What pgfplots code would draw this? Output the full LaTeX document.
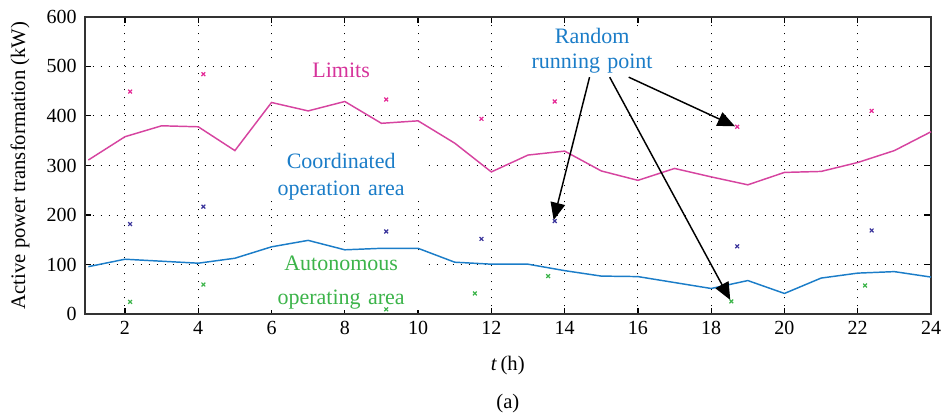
\documentclass[border=0pt]{standalone}
\usepackage{fontspec}
\setmainfont{Liberation Serif}
\usepackage{pgfplots}
\pgfplotsset{compat=1.18}
\usetikzlibrary{arrows.meta}

\definecolor{limitline}{RGB}{214,68,160}
\definecolor{limitmark}{RGB}{228,42,150}
\definecolor{limittext}{RGB}{214,51,155}
\definecolor{coordblue}{RGB}{27,125,200}
\definecolor{autogreen}{RGB}{60,180,74}
\definecolor{randpurple}{RGB}{58,52,155}

\tikzset{annot/.style={fill=white, inner xsep=5pt, inner ysep=1pt, text width=115pt,
    align=center, font=\fontsize{16.5}{20}\selectfont}}

\begin{document}
\begin{tikzpicture}[x=1pt,y=1pt]
\path[use as bounding box] (-63.5,-77) rectangle (645.2,235.7);
\begin{axis}[
  at={(0,0)}, anchor=south west,
  scale only axis, width=634.7pt, height=223.2pt,
  xmin=0.9, xmax=24, ymin=0, ymax=600,
  xtick={2,4,...,24}, ytick={0,100,...,600},
  tick align=inside, major tick length=5pt,
  grid=major,
  major grid style={black, line width=0.75pt, dash pattern=on 0.75pt off 5.25pt},
  axis line style={line width=1.3pt, black!80},
  tick style={black, line width=0.9pt},
  ticklabel style={font=\rmfamily\fontsize{15}{17}\selectfont},
  /pgf/number format/assume math mode=true,
  xticklabel={\rmfamily\pgfmathprintnumber{\tick}},
  yticklabel={\rmfamily\pgfmathprintnumber{\tick}},
  xticklabel style={yshift=-2pt},
  yticklabel style={xshift=-2.5pt},
  clip=false,
  xlabel={\textit{t}\,(h)},
  ylabel={Active power transformation (kW)},
  label style={font=\fontsize{15.5}{18}\selectfont},
  xlabel style={at={(axis description cs:0.5,-0.1738)}, anchor=center},
  ylabel style={at={(axis description cs:-0.0764,0.5)}, anchor=center},
  every axis plot/.append style={line width=1.1pt},
]
% power limit of the transformer
\addplot[limitline, mark=none] coordinates {
  (1,311) (2,358) (3,380) (4,378) (5,330) (6,427) (7,410) (8,429)
  (9,385) (10,390) (11,345) (12,287) (13,321) (14,329) (15,289) (16,270)
  (17,294) (18,277) (19,261) (20,286) (21,288) (22,306) (23,330) (24,368)
};
% boundary of the autonomous operating area
\addplot[coordblue, mark=none] coordinates {
  (1,96) (2,111) (3,107) (4,103) (5,113) (6,136) (7,149) (8,130)
  (9,133) (10,133) (11,105) (12,101) (13,101) (14,88) (15,77) (16,76)
  (17,64) (18,52) (19,68) (20,42) (21,73) (22,83) (23,86) (24,75)
};
% random running points
\addplot[only marks, limitmark, mark=x, mark size=2pt, mark options={line width=0.9pt}] coordinates {
  (2.14,449) (4.14,484) (9.13,433) (11.73,394) (13.73,429) (18.71,378) (22.38,410)
};
\addplot[only marks, randpurple, mark=x, mark size=2pt, mark options={line width=0.9pt}] coordinates {
  (2.14,182) (4.14,217) (9.13,167) (11.73,152) (13.73,188) (18.71,137) (22.38,169)
};
\addplot[only marks, autogreen, mark=x, mark size=2pt, mark options={line width=0.9pt}] coordinates {
  (2.14,25) (4.14,60) (9.13,10) (11.55,42) (13.55,77) (18.55,26) (22.2,58)
};

% region labels
\node[annot, text=limittext] at (axis cs:7.9,491) {Limits};
\node[annot, text=coordblue] at (axis cs:7.9,278) {Coordinated\\operation area};
\node[annot, text=autogreen, font=\fontsize{16.5}{25}\selectfont] at (axis cs:7.9,64) {Autonomous\\operating area};
\node[annot, text=coordblue, font=\fontsize{16.5}{18.75}\selectfont] at (axis cs:14.75,531) {Random\\running point};

% arrows to the sample points
\draw[-{Triangle[length=13pt,width=11pt]}, line width=1.1pt] (axis cs:14.68,478) -- (axis cs:13.70,190);
\draw[-{Triangle[length=13pt,width=11pt]}, line width=1.1pt] (axis cs:15.23,478) -- (axis cs:18.52,29);
\draw[-{Triangle[length=13pt,width=11pt]}, line width=1.1pt] (axis cs:15.75,478) -- (axis cs:18.65,379);

\node[font=\fontsize{15.5}{18}\selectfont] at (axis description cs:0.5,-0.3015) {(a)};
\end{axis}
\end{tikzpicture}
\end{document}
